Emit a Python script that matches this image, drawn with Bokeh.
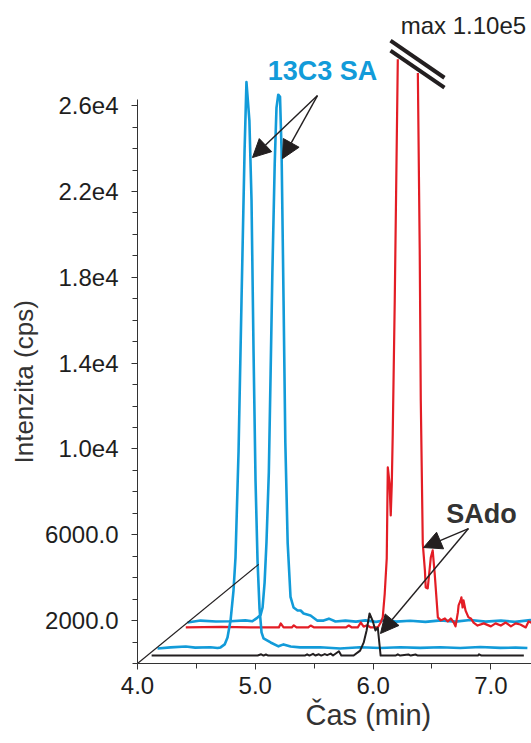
import math

from bokeh.embed import file_html
from bokeh.models import Arrow, FixedTicker, Label, NormalHead, Range1d, Title
from bokeh.plotting import figure
from bokeh.resources import INLINE

# ---------------- chromatogram data (retention time in min, intensity in cps) ----------------
# SAdo, sample 1 (front trace)
sado1_time = [4.00, 4.90, 4.93, 4.95, 4.97, 4.99, 5.30, 5.32, 5.34, 5.37, 5.39, 5.42, 5.44,
              5.47, 5.49, 5.52, 5.54, 5.59, 5.61, 5.715, 5.77, 5.80, 5.825, 5.85, 5.876,
              5.90, 5.92, 5.944, 6.07, 6.09, 6.11, 6.18, 6.20, 6.24, 6.26, 6.77, 6.78,
              6.80, 7.16]
sado1_cps = [0, 0, 60, 0, 50, 0, 0, 60, 0, 80, 0, 60, 0,
             70, 20, 90, 0, 200, 0, 0, 230, 600, 1170, 1960, 1630,
             1170, 1300, 0, 0, 60, 0, 50, 0, 50, 0, 0, 60,
             0, 0]

# 13C3 SA, sample 1
sa13c1_time = [4.00, 4.11, 4.24, 4.32, 4.45, 4.51, 4.535, 4.57, 4.594, 4.62, 4.645, 4.662,
               4.688, 4.713, 4.739, 4.755, 4.78, 4.798, 4.815, 4.832, 4.849, 4.866, 4.883,
               4.90, 4.96, 5.027, 5.07, 5.13, 5.21, 5.38, 5.55, 5.72, 5.89, 6.06, 6.23,
               6.40, 6.57, 6.74, 6.91, 7.04, 7.14]
sa13c1_cps = [0, 50, 90, 40, 60, 20, 50, 190, 510, 1300, 2700, 4240,
              9200, 16200, 23200, 26400, 24600, 20900, 13900, 7830, 4100, 1860, 750,
              470, 280, 100, 190, 90, 50, 60, 0, 60, 20, 60, 30,
              60, 20, 70, 30, 40, 20]

# SAdo, sample 2
sado2_time = [4.00, 4.30, 4.55, 4.79, 4.806, 4.83, 4.90, 4.917, 4.94, 5.04, 5.06, 5.09,
              5.36, 5.384, 5.41, 5.46, 5.486, 5.51, 5.54, 5.57, 5.63, 5.655, 5.672, 5.689,
              5.706, 5.715, 5.73, 5.74, 5.749, 5.757, 5.774, 5.80, 5.85, 5.884, 5.92,
              5.97, 5.986, 5.995, 6.012, 6.03, 6.037, 6.054, 6.08, 6.096, 6.113, 6.14,
              6.165, 6.20, 6.224, 6.25, 6.275, 6.29, 6.31, 6.316, 6.333, 6.34, 6.35,
              6.358, 6.375, 6.40, 6.42, 6.443, 6.477, 6.53, 6.59, 6.63, 6.674, 6.716,
              6.76, 6.80, 6.84, 6.886, 6.91, 6.97]
sado2_cps = [0, 30, 0, 0, 190, 0, 0, 100, 0, 0, 90, 0,
             0, 90, 0, 0, 230, 40, 100, 0, 0, 230, 470, 1580,
             3220, 7460, 6710, 5220, 6710, 9040, 15240, 26500, 70000, 110000, 75000,
             25900, 17600, 10600, 3910, 2660, 1860, 1820, 3260, 3590, 2520, 470,
             330, 420, 280, 420, 230, 50, 700, 1030, 1260, 1400, 930,
             1260, 790, 470, 420, 230, 90, 190, 50, 190, 90, 230,
             50, 190, 140, 0, 280, 140]

# 13C3 SA, sample 2
sa13c2_time = [4.00, 4.11, 4.24, 4.365, 4.49, 4.55, 4.594, 4.62, 4.637, 4.654, 4.67, 4.69,
               4.705, 4.72, 4.74, 4.755, 4.77, 4.785, 4.798, 4.815, 4.83, 4.85, 4.874,
               4.90, 4.934, 4.96, 4.985, 5.044, 5.10, 5.155, 5.20, 5.256, 5.34, 5.43,
               5.51, 5.60, 5.68, 5.77, 5.89, 6.02, 6.15, 6.275, 6.40, 6.53, 6.66, 6.78,
               6.91, 7.00]
sa13c2_cps = [0, 90, 50, 60, 100, 60, 230, 350, 700, 1860, 3730, 7000,
              11600, 16300, 21400, 24000, 24600, 24500, 22000, 15000, 8400, 3700, 1200,
              700, 560, 560, 420, 330, 90, 90, 180, 50, 90, 40,
              100, 30, 110, 40, 80, 30, 100, 40, 120, 40, 90, 30,
              110, 60]

# stacking offsets of each trace in the pseudo-3D view (min, cps)
offsets = {
    "sado1": (0.12, 370),
    "sa13c1": (0.17, 700),
    "sado2": (0.41, 1680),
    "sa13c2": (0.425, 1910),
}

# axis ticks and labels
x_ticks = [4.0, 5.0, 6.0, 7.0]
x_labels = ["4.0", "5.0", "6.0", "7.0"]
y_ticks = [2000, 6000, 10000, 14000, 18000, 22000, 26000]
y_labels = ["2000.0", "6000.0", "1.0e4", "1.4e4", "1.8e4", "2.2e4", "2.6e4"]
sado2_max = 1.10e5

BLUE = "#129bd9"
RED = "#e31d25"
DARK = "#231f20"
FONT = "Liberation Sans"

p = figure(width=531, height=743, output_backend="svg", toolbar_location=None,
           x_range=Range1d(4.0, 7.345), y_range=Range1d(0, 30900),
           min_border_left=137, min_border_bottom=80, min_border_top=0, min_border_right=0)
p.outline_line_color = None
p.grid.visible = False
p.background_fill_color = "white"
p.border_fill_color = "white"


def shifted(times, cps, key):
    dx, dy = offsets[key]
    return [t + dx for t in times], [c + dy for c in cps]


# axis break drawn across the off-scale SAdo peak
brk_x = [6.148, 6.606]
brk_upper = [29030, 27300]
brk_lower = [28565, 26840]
brk_slope = (brk_lower[1] - brk_lower[0]) / (brk_x[1] - brk_x[0])


def cut_level(x):
    # the trace stops just below the lower break stroke
    return brk_lower[0] + brk_slope * (x - brk_x[0]) - 170


def cut_at_break(xs, ys):
    """Interrupt a polyline where it rises above the break strokes."""
    out_x, out_y = [], []
    for i, (x, y) in enumerate(zip(xs, ys)):
        below = y <= cut_level(x)
        if i > 0:
            px, py = xs[i - 1], ys[i - 1]
            prev_below = py <= cut_level(px)
            if below != prev_below:
                f0, f1 = py - cut_level(px), y - cut_level(x)
                t = f0 / (f0 - f1)
                ix, iy = px + t * (x - px), py + t * (y - py)
                out_x.append(ix)
                out_y.append(iy)
                if prev_below:
                    out_x.append(math.nan)
                    out_y.append(math.nan)
        if below:
            out_x.append(x)
            out_y.append(y)
    return out_x, out_y


# back to front so that front traces are painted on top
xs, ys = shifted(sa13c2_time, sa13c2_cps, "sa13c2")
p.line(xs, ys, line_color=BLUE, line_width=2.6, line_join="round")
xs, ys = cut_at_break(*shifted(sado2_time, sado2_cps, "sado2"))
p.line(xs, ys, line_color=RED, line_width=2.2, line_join="round")
xs, ys = shifted(sa13c1_time, sa13c1_cps, "sa13c1")
p.line(xs, ys, line_color=BLUE, line_width=2.6, line_join="round")
xs, ys = shifted(sado1_time, sado1_cps, "sado1")
p.line(xs, ys, line_color=DARK, line_width=2.0, line_join="round")

# depth axis of the stacked view
depth = 2.42
back_dx, back_dy = offsets["sa13c2"]
p.line([4.0, 4.0 + depth * back_dx], [0, depth * back_dy], line_color=DARK, line_width=1.1)

# break strokes
p.line(brk_x, brk_upper, line_color=DARK, line_width=4)
p.line(brk_x, brk_lower, line_color=DARK, line_width=4)

# axes
p.xaxis.ticker = FixedTicker(ticks=x_ticks, minor_ticks=[4.5, 5.5, 6.5])
p.xaxis.major_label_overrides = dict(zip(x_ticks, x_labels))
p.yaxis.ticker = FixedTicker(ticks=y_ticks, minor_ticks=list(range(0, 26001, 1000)))
p.yaxis.major_label_overrides = dict(zip(y_ticks, y_labels))
p.yaxis.bounds = (0, 26300)
for ax in (p.xaxis, p.yaxis):
    ax.axis_line_color = "#333333"
    ax.axis_line_width = 1
    ax.major_tick_line_color = "#333333"
    ax.minor_tick_line_color = "#333333"
    ax.major_tick_out = 6
    ax.major_tick_in = 0
    ax.minor_tick_out = 5
    ax.minor_tick_in = 0
    ax.major_label_text_font = FONT
    ax.major_label_text_font_size = "24px"
    ax.major_label_text_color = "#1e1e1e"
p.xaxis.major_label_standoff = 7
p.yaxis.major_label_standoff = 13

# axis titles
p.add_layout(Title(text="Čas (min)", align="left", offset=168, standoff=0, text_font=FONT,
                   text_font_size="29px", text_font_style="normal", text_color="#333333"), "below")
p.add_layout(Title(text="Intenzita (cps)", align="left", offset=200, standoff=7, text_font=FONT,
                   text_font_size="26px", text_font_style="normal", text_color="#333333"), "left")

# annotations
p.add_layout(Label(x=5.57, y=27635, text="13C3 SA", text_font=FONT, text_font_size="27px",
                   text_font_style="bold", text_color=BLUE, text_align="center",
                   text_baseline="middle"))
p.add_layout(Label(x=6.92, y=6990, text="SAdo", text_font=FONT, text_font_size="27px",
                   text_font_style="bold", text_color="#333333", text_align="center",
                   text_baseline="middle"))
p.add_layout(Label(x=6.767, y=29730, text=f"max {sado2_max:.2e}".replace("e+0", "e"),
                   text_font=FONT, text_font_size="24px", text_color="#222222",
                   text_align="center", text_baseline="middle"))

arrow_specs = [
    ((5.528, 26470), (4.976, 23580)),
    ((5.528, 26470), (5.231, 23530)),
    ((6.81, 6290), (6.428, 5405)),
    ((6.81, 6290), (6.063, 1398)),
]
for (x0, y0), (x1, y1) in arrow_specs:
    p.add_layout(Arrow(x_start=x0, y_start=y0, x_end=x1, y_end=y1, line_color=DARK, line_width=1.4,
                       end=NormalHead(size=18, fill_color=DARK, line_color=DARK, line_width=1)))

open("out.html", "w").write(file_html(p, INLINE))
